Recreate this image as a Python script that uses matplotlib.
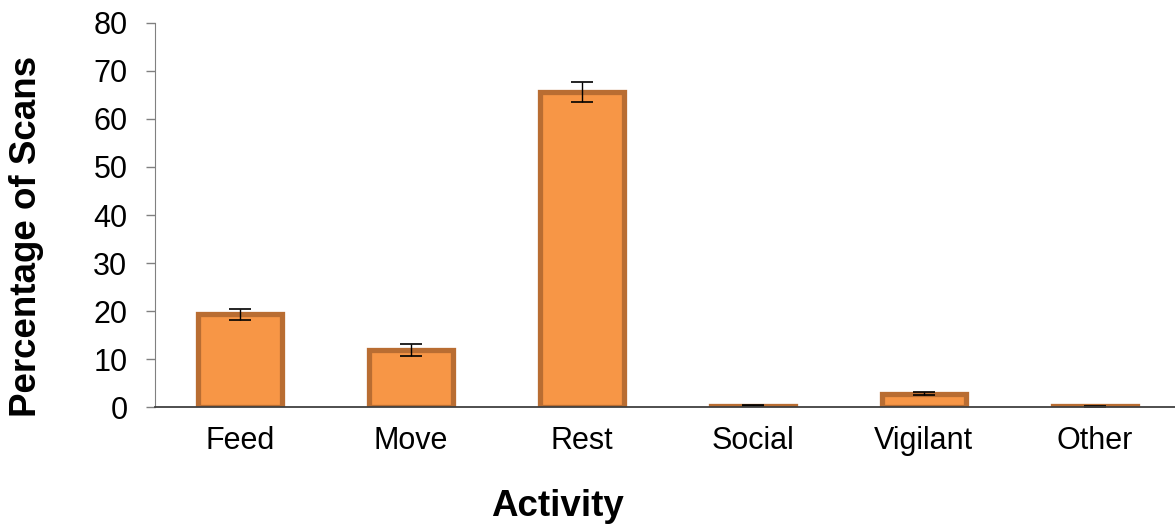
import matplotlib
matplotlib.use("Agg")
import matplotlib.pyplot as plt
import numpy as np

categories = ["Feed", "Move", "Rest", "Social", "Vigilant", "Other"]
values = [19.3, 11.9, 65.6, 0.3, 2.8, 0.2]
errors = [1.15, 1.25, 2.1, 0.1, 0.25, 0.1]
yticks = [0, 10, 20, 30, 40, 50, 60, 70, 80]

plt.rcParams['font.family'] = ['Liberation Sans', 'DejaVu Sans']

fig = plt.figure(figsize=(11.75, 5.31), dpi=100)
ax = fig.add_axes([0.1315, 0.2335, 0.873, 0.7232])

x = np.arange(len(categories))
ax.bar(x, values, width=0.49, color="#F79646", edgecolor="#B96D32", linewidth=3.8, zorder=2)
ax.errorbar(x, values, yerr=errors, fmt="none", ecolor="black", elinewidth=1, capsize=8, capthick=1.2, zorder=3)

ax.set_xlim(-0.5, len(categories) - 0.5)
ax.set_ylim(0, 80)
ax.set_yticks(yticks)
ax.set_xticks(x)
ax.set_xticklabels(categories, fontsize=22)
ax.tick_params(axis='y', labelsize=22, length=6.5, width=1, color="#808080", pad=13)
ax.tick_params(axis='x', length=0, pad=14)

for s in ["top", "right"]:
    ax.spines[s].set_visible(False)
ax.spines["left"].set_color("#808080")
ax.spines["bottom"].set_color("#404040")
ax.spines["bottom"].set_linewidth(1.3)
ax.spines["bottom"].set_zorder(4)

ax.set_xlabel("Activity", fontsize=26.5, fontweight="bold")
ax.xaxis.set_label_coords(0.393, -0.2135)
ax.set_ylabel("Percentage of Scans", fontsize=26.5, fontweight="bold")
ax.yaxis.set_label_coords(-0.1077, 0.445)

fig.savefig("out.png", dpi=100)
